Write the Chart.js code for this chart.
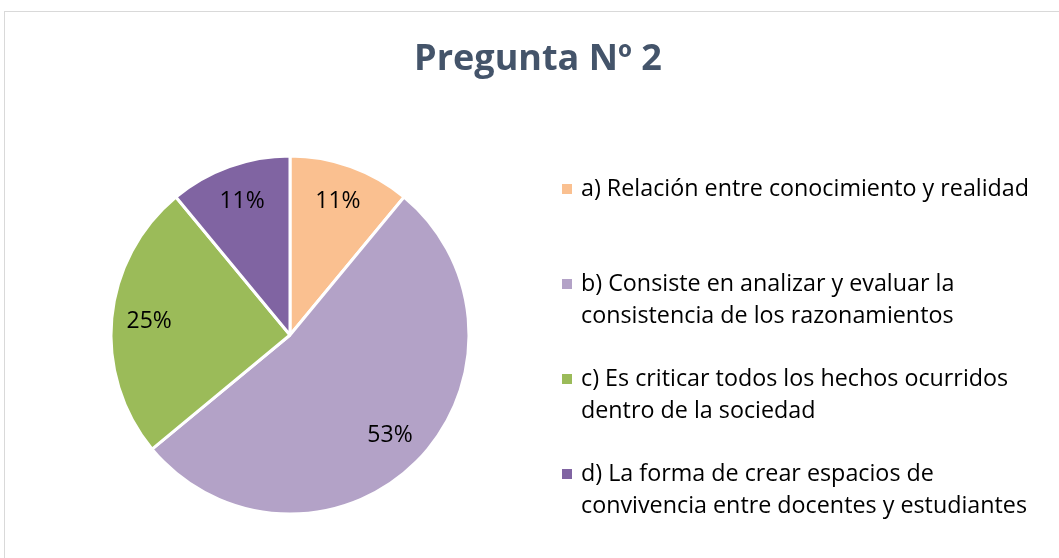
<!DOCTYPE html>
<html>
  <head>
    <style>
      body {
        margin: 0;
        overflow: hidden;
        background: #fff;
      }
      #frame {
        position: absolute;
        left: 4px;
        top: 11px;
        width: 1100px;
        height: 600px;
        border: 1px solid #d9d9d9;
      }
      #chartContainer {
        position: absolute;
        left: 0;
        top: 0;
        width: 1059px;
        height: 558px;
      }
    </style>
  </head>

  <body>
    <div id="frame"></div>
    <div id="chartContainer">
      <canvas id="myChart" width="1059" height="558"></canvas>
    </div>

    <script src="https://cdn.jsdelivr.net/npm/chart.js"></script>
    <script>
      const ctx = document.getElementById('myChart');

      const titleText = 'Pregunta Nº 2';

      // each answer split in the lines shown in the legend
      const answers = [
        ['a) Relación entre conocimiento y realidad'],
        ['b) Consiste en analizar y evaluar la', 'consistencia de los razonamientos'],
        ['c) Es criticar todos los hechos ocurridos', 'dentro de la sociedad'],
        ['d) La forma de crear espacios de', 'convivencia entre docentes y estudiantes']
      ];

      const percents = [11, 53, 25, 11];

      const colors = ['#fac090', '#b3a2c7', '#9bbb59', '#8064a2'];

      // title, percent labels and legend drawn on the canvas
      const extras = {
        id: 'extras',
        afterDatasetsDraw(chart) {
          const c = chart.ctx;
          c.save();

          c.font = 'bold 36px "Open Sans"';
          c.fillStyle = '#44546a';
          c.textAlign = 'center';
          c.textBaseline = 'middle';
          c.fillText(titleText, 538, 60);

          c.font = '23px "Open Sans"';
          c.fillStyle = '#000';
          const meta = chart.getDatasetMeta(0);
          meta.data.forEach((arc, i) => {
            const p = arc.getProps(['x', 'y', 'startAngle', 'endAngle', 'outerRadius'], true);
            const mid = (p.startAngle + p.endAngle) / 2;
            const r = p.outerRadius * 0.79;
            c.fillText(percents[i] + '%', p.x + Math.cos(mid) * r, p.y + Math.sin(mid) * r);
          });

          c.font = '23.3px "Open Sans"';
          c.textAlign = 'left';
          answers.forEach((lines, i) => {
            const y0 = 189 + i * 95;
            c.fillStyle = colors[i];
            c.fillRect(562, y0 - 5, 10, 10);
            c.fillStyle = '#000';
            lines.forEach((line, k) => {
              c.fillText(line, 581, y0 + k * 32.5);
            });
          });

          c.restore();
        }
      };

      const questionChart = new Chart(ctx, {
        type: 'pie',
        data: {
          labels: answers.map(a => a.join(' ')),
          datasets: [{
            data: percents,
            backgroundColor: colors,
            borderColor: '#ffffff',
            borderWidth: 3
          }]
        },
        options: {
          responsive: false,
          animation: false,
          layout: {
            padding: { top: 154.5, left: 109.5, right: 588.5, bottom: 42.5 }
          },
          plugins: {
            legend: { display: false },
            title: { display: false },
            tooltip: { enabled: false }
          }
        },
        plugins: [extras]
      });
    </script>
  </body>
</html>
